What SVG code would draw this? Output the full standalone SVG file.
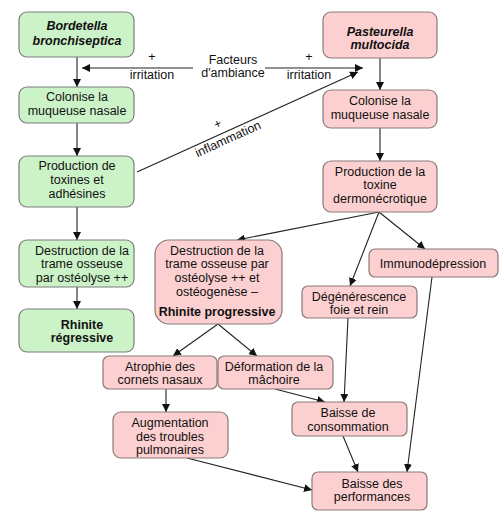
<svg xmlns="http://www.w3.org/2000/svg" width="500" height="523" viewBox="0 0 500 523">
<defs>
<style>
.g rect{fill:#ccf2c8;stroke:#7d7d7d;stroke-width:1.2}
.p rect{fill:#fcd0d0;stroke:#8a7a7a;stroke-width:1.2}
text{font-family:"Liberation Sans",Arial,sans-serif;font-size:12.5px;fill:#111;text-anchor:middle}
.bi{font-weight:bold;font-style:italic}
.b{font-weight:bold}
#edges line{stroke:#222;stroke-width:1.1;marker-end:url(#ah)}
</style>
<marker id="ah" viewBox="0 0 10 10" refX="10" refY="5" markerWidth="8" markerHeight="8" markerUnits="userSpaceOnUse" orient="auto">
<path d="M0,0 L10,5 L0,10 z" fill="#111"/>
</marker>
</defs>
<rect width="500" height="523" fill="#fff"/>
<g id="edges">
<line x1="77" y1="57" x2="77" y2="87"/>
<line x1="77" y1="123" x2="77" y2="156"/>
<line x1="77" y1="207" x2="77" y2="240"/>
<line x1="77" y1="287" x2="77" y2="309"/>
<line x1="193" y1="68" x2="82" y2="68"/>
<line x1="265" y1="68" x2="363" y2="68"/>
<line x1="137" y1="172" x2="358" y2="72"/>
<line x1="380" y1="58" x2="380" y2="90"/>
<line x1="380" y1="128" x2="380" y2="161"/>
<line x1="379" y1="212" x2="237" y2="240"/>
<line x1="379" y1="212" x2="350" y2="286"/>
<line x1="379" y1="212" x2="425" y2="249"/>
<line x1="218" y1="324" x2="173" y2="356"/>
<line x1="218" y1="324" x2="257" y2="356"/>
<line x1="166" y1="389" x2="166" y2="412"/>
<line x1="275" y1="389" x2="325" y2="402"/>
<line x1="348" y1="318" x2="344" y2="402"/>
<line x1="432" y1="277" x2="407" y2="472"/>
<line x1="343" y1="436" x2="358" y2="472"/>
<line x1="187" y1="458" x2="312" y2="490"/>
</g>
<g id="labels">
<text x="233" y="63.5">Facteurs</text>
<text x="233" y="76.5">d'ambiance</text>
<text x="152" y="61">+</text>
<text x="152" y="79">irritation</text>
<text x="309" y="61">+</text>
<text x="309" y="79">irritation</text>
<text x="218" y="128" transform="rotate(-24.4 218 125)">+</text>
<text x="228" y="143" transform="rotate(-24.4 228 139)">inflammation</text>
</g>
<g id="n1" class="g"><rect x="19" y="12" width="115" height="45" rx="8"/><text class="bi" x="77" y="30">Bordetella</text><text class="bi" x="77" y="45">bronchiseptica</text></g>
<g id="n2" class="g"><rect x="19" y="87" width="115" height="36" rx="8"/><text x="77" y="101">Colonise la</text><text x="77" y="114.5">muqueuse nasale</text></g>
<g id="n3" class="g"><rect x="19" y="156" width="115" height="51" rx="8"/><text x="77" y="169.5">Production de</text><text x="77" y="183.5">toxines et</text><text x="77" y="197.5">adhésines</text></g>
<g id="n4" class="g"><rect x="19" y="240" width="115" height="47" rx="8"/><text x="82" y="254.5">Destruction de la</text><text x="82" y="268">trame osseuse</text><text x="82" y="281.5">par ostéolyse ++</text></g>
<g id="n5" class="g"><rect x="19" y="309" width="115" height="43" rx="8"/><text class="b" x="82" y="328.5">Rhinite</text><text class="b" x="82" y="341.5">régressive</text></g>
<g id="n6" class="p"><rect x="323" y="12" width="114" height="46" rx="8"/><text class="bi" x="380" y="35.5">Pasteurella</text><text class="bi" x="380" y="48.5">multocida</text></g>
<g id="n7" class="p"><rect x="323" y="90" width="114" height="38" rx="8"/><text x="380" y="104.5">Colonise la</text><text x="380" y="118.5">muqueuse nasale</text></g>
<g id="n8" class="p"><rect x="323" y="161" width="114" height="51" rx="8"/><text x="380" y="175.5">Production de la</text><text x="380" y="189">toxine</text><text x="380" y="202.5">dermonécrotique</text></g>
<g id="n9" class="p"><rect x="369" y="249" width="129" height="28" rx="6"/><text x="433" y="267.5">Immunodépression</text></g>
<g id="n10" class="p"><rect x="302" y="286" width="115" height="32" rx="6"/><text x="359" y="300.5">Dégénérescence</text><text x="359" y="313.5">foie et rein</text></g>
<g id="n11" class="p"><rect x="155" y="240" width="127" height="84" rx="14"/><text x="217" y="254.5">Destruction de la</text><text x="217" y="267.5">trame osseuse par</text><text x="217" y="281.5">ostéolyse ++ et</text><text x="217" y="295.5">ostéogenèse –</text><text class="b" x="217" y="315.5">Rhinite progressive</text></g>
<g id="n12" class="p"><rect x="103" y="356" width="114" height="33" rx="6"/><text x="160" y="370.5">Atrophie des</text><text x="160" y="383.5">cornets nasaux</text></g>
<g id="n13" class="p"><rect x="218" y="356" width="115" height="33" rx="6"/><text x="274" y="370.5">Déformation de la</text><text x="274" y="383.5">mâchoire</text></g>
<g id="n14" class="p"><rect x="113" y="412" width="115" height="46" rx="8"/><text x="170" y="426.5">Augmentation</text><text x="170" y="440.5">des troubles</text><text x="170" y="453.5">pulmonaires</text></g>
<g id="n15" class="p"><rect x="292" y="402" width="115" height="34" rx="6"/><text x="348" y="416.5">Baisse de</text><text x="348" y="430.5">consommation</text></g>
<g id="n16" class="p"><rect x="312" y="472" width="115" height="38" rx="6"/><text x="372" y="487.5">Baisse des</text><text x="372" y="500.5">performances</text></g>
</svg>
